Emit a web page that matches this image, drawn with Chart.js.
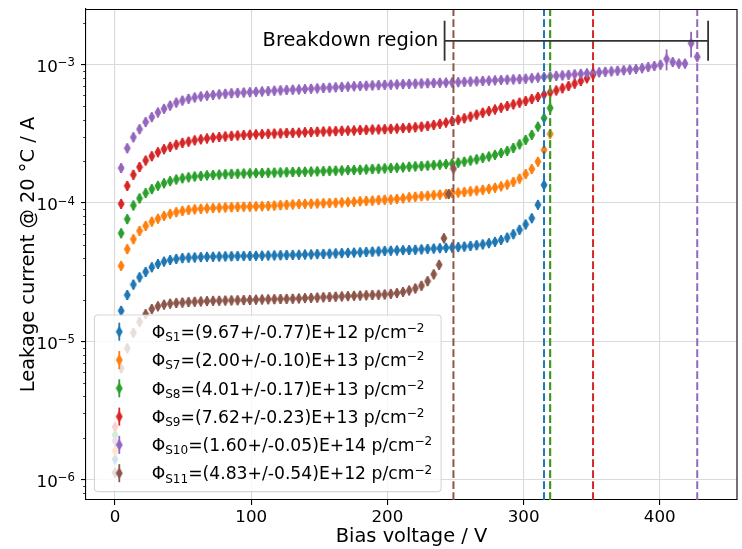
<!DOCTYPE html>
<html>
<head>
<meta charset="utf-8">
<script src="https://cdn.jsdelivr.net/npm/chart.js@4.4.0/dist/chart.umd.min.js"></script>
<style>
  html, body { margin: 0; padding: 0; background: #ffffff; }
  canvas { display: block; }
</style>
</head>
<body>
<canvas id="iv" width="742" height="549"></canvas>
<script>
// Bias voltage steps of the IV scans (V)
const biasV = [0,4.5,9,13.5,18,22.5,27,31.5,36,40.5,45,49.5,54,58.5,63,67.5,72,76.5,81,85.5,
  90,94.5,99,103.5,108,112.5,117,121.5,126,130.5,135,139.5,144,148.5,153,157.5,162,166.5,171,175.5,
  180,184.5,189,193.5,198,202.5,207,211.5,216,220.5,225,229.5,234,238.5,243,247.5,252,256.5,261,265.5,
  270,274.5,279,283.5,288,292.5,297,301.5,306,310.5,315,319.5,324,328.5,333,337.5,342,346.5,351,355.5,
  360,364.5,369,373.5,378,382.5,387,391.5,396,400.5,405,409.5,414,418.5,423,427.5];

// S11 was scanned with finer steps close to its breakdown
const biasV_S11 = [0,4.5,9,13.5,18,22.5,27,31.5,36,40.5,45,49.5,54,58.5,63,67.5,72,76.5,81,85.5,
  90,94.5,99,103.5,108,112.5,117,121.5,126,130.5,135,139.5,144,148.5,153,157.5,162,166.5,171,175.5,
  180,184.5,189,193.5,198,202.5,207,211.5,216,220.5,225,229.5,234,238,241.5,245,248.5];

// Leakage current at 20 °C (A)
const current_S1 = [1.4e-6,1.66e-5,2.16e-5,2.57e-5,2.90e-5,3.17e-5,3.43e-5,3.62e-5,3.77e-5,3.87e-5,
  3.94e-5,3.99e-5,4.02e-5,4.04e-5,4.06e-5,4.08e-5,4.09e-5,4.10e-5,4.11e-5,4.12e-5,
  4.13e-5,4.135e-5,4.14e-5,4.15e-5,4.16e-5,4.17e-5,4.18e-5,4.19e-5,4.20e-5,4.21e-5,
  4.22e-5,4.24e-5,4.25e-5,4.27e-5,4.28e-5,4.30e-5,4.32e-5,4.34e-5,4.36e-5,4.38e-5,
  4.40e-5,4.42e-5,4.45e-5,4.47e-5,4.50e-5,4.52e-5,4.54e-5,4.56e-5,4.57e-5,4.59e-5,
  4.62e-5,4.65e-5,4.68e-5,4.71e-5,4.74e-5,4.77e-5,4.80e-5,4.84e-5,4.89e-5,4.95e-5,
  5.02e-5,5.12e-5,5.24e-5,5.40e-5,5.62e-5,5.95e-5,6.40e-5,7.00e-5,7.76e-5,9.70e-5,1.35e-4];

const current_S7 = [1.6e-6,3.51e-5,4.64e-5,5.47e-5,6.28e-5,6.83e-5,7.33e-5,7.70e-5,8.06e-5,8.34e-5,
  8.58e-5,8.76e-5,8.90e-5,9.00e-5,9.08e-5,9.14e-5,9.19e-5,9.24e-5,9.29e-5,9.33e-5,
  9.37e-5,9.40e-5,9.42e-5,9.45e-5,9.48e-5,9.52e-5,9.58e-5,9.64e-5,9.70e-5,9.76e-5,
  9.82e-5,9.86e-5,9.90e-5,9.93e-5,9.96e-5,1.000e-4,1.005e-4,1.010e-4,1.015e-4,1.020e-4,
  1.030e-4,1.035e-4,1.040e-4,1.050e-4,1.055e-4,1.060e-4,1.070e-4,1.080e-4,1.100e-4,1.110e-4,
  1.120e-4,1.130e-4,1.140e-4,1.150e-4,1.160e-4,1.180e-4,1.190e-4,1.200e-4,1.215e-4,1.230e-4,
  1.245e-4,1.265e-4,1.290e-4,1.320e-4,1.360e-4,1.420e-4,1.500e-4,1.620e-4,1.760e-4,1.990e-4,
  2.420e-4,3.160e-4];

const current_S8 = [2.1e-6,6.04e-5,7.64e-5,9.60e-5,1.08e-4,1.18e-4,1.26e-4,1.33e-4,1.39e-4,1.44e-4,
  1.48e-4,1.51e-4,1.535e-4,1.555e-4,1.57e-4,1.585e-4,1.595e-4,1.605e-4,1.615e-4,1.625e-4,
  1.63e-4,1.635e-4,1.64e-4,1.645e-4,1.65e-4,1.655e-4,1.66e-4,1.665e-4,1.67e-4,1.675e-4,
  1.68e-4,1.685e-4,1.69e-4,1.695e-4,1.70e-4,1.71e-4,1.715e-4,1.72e-4,1.73e-4,1.735e-4,
  1.74e-4,1.75e-4,1.76e-4,1.77e-4,1.78e-4,1.79e-4,1.80e-4,1.81e-4,1.83e-4,1.84e-4,
  1.85e-4,1.865e-4,1.88e-4,1.895e-4,1.91e-4,1.93e-4,1.96e-4,1.99e-4,2.03e-4,2.07e-4,
  2.12e-4,2.17e-4,2.23e-4,2.30e-4,2.38e-4,2.50e-4,2.66e-4,2.86e-4,3.11e-4,3.57e-4,
  4.11e-4,4.86e-4];

const current_S9 = [2.4e-6,9.85e-5,1.33e-4,1.60e-4,1.82e-4,2.03e-4,2.18e-4,2.33e-4,2.45e-4,2.55e-4,
  2.64e-4,2.72e-4,2.78e-4,2.84e-4,2.89e-4,2.93e-4,2.97e-4,3.00e-4,3.03e-4,3.06e-4,
  3.08e-4,3.10e-4,3.12e-4,3.14e-4,3.15e-4,3.17e-4,3.18e-4,3.19e-4,3.21e-4,3.22e-4,
  3.23e-4,3.25e-4,3.26e-4,3.28e-4,3.29e-4,3.30e-4,3.31e-4,3.33e-4,3.34e-4,3.35e-4,
  3.37e-4,3.38e-4,3.40e-4,3.41e-4,3.42e-4,3.44e-4,3.46e-4,3.48e-4,3.50e-4,3.53e-4,
  3.57e-4,3.61e-4,3.67e-4,3.74e-4,3.82e-4,3.91e-4,4.00e-4,4.10e-4,4.22e-4,4.36e-4,
  4.50e-4,4.62e-4,4.75e-4,4.89e-4,5.03e-4,5.17e-4,5.32e-4,5.47e-4,5.65e-4,5.85e-4,
  6.08e-4,6.30e-4,6.52e-4,6.76e-4,7.02e-4,7.30e-4,7.62e-4,7.98e-4,8.47e-4];

const current_S10 = [1.9e-6,1.79e-4,2.49e-4,2.99e-4,3.42e-4,3.85e-4,4.18e-4,4.52e-4,4.80e-4,5.07e-4,
  5.33e-4,5.51e-4,5.67e-4,5.80e-4,5.90e-4,5.98e-4,6.05e-4,6.11e-4,6.17e-4,6.22e-4,
  6.26e-4,6.30e-4,6.33e-4,6.37e-4,6.41e-4,6.45e-4,6.49e-4,6.53e-4,6.57e-4,6.60e-4,
  6.63e-4,6.67e-4,6.71e-4,6.75e-4,6.79e-4,6.83e-4,6.87e-4,6.91e-4,6.95e-4,6.99e-4,
  7.02e-4,7.06e-4,7.09e-4,7.12e-4,7.15e-4,7.18e-4,7.21e-4,7.24e-4,7.27e-4,7.30e-4,
  7.33e-4,7.36e-4,7.38e-4,7.41e-4,7.43e-4,7.45e-4,7.48e-4,7.52e-4,7.56e-4,7.60e-4,
  7.64e-4,7.68e-4,7.72e-4,7.76e-4,7.80e-4,7.84e-4,7.87e-4,7.93e-4,8.00e-4,8.08e-4,
  8.16e-4,8.24e-4,8.31e-4,8.38e-4,8.45e-4,8.52e-4,8.59e-4,8.67e-4,8.75e-4,8.82e-4,
  8.89e-4,8.97e-4,9.05e-4,9.13e-4,9.22e-4,9.31e-4,9.45e-4,9.62e-4,9.80e-4,1.00e-3,
  1.10e-3,1.046e-3,1.02e-3,1.02e-3,1.43e-3,1.14e-3];

const current_S11 = [1.12e-6,6.37e-6,8.90e-6,1.15e-5,1.38e-5,1.57e-5,1.71e-5,1.79e-5,1.84e-5,1.87e-5,
  1.89e-5,1.905e-5,1.92e-5,1.93e-5,1.94e-5,1.95e-5,1.96e-5,1.965e-5,1.97e-5,1.975e-5,
  1.98e-5,1.985e-5,1.99e-5,2.00e-5,2.005e-5,2.01e-5,2.015e-5,2.02e-5,2.025e-5,2.03e-5,
  2.04e-5,2.05e-5,2.06e-5,2.07e-5,2.08e-5,2.09e-5,2.10e-5,2.11e-5,2.12e-5,2.13e-5,
  2.14e-5,2.15e-5,2.16e-5,2.17e-5,2.18e-5,2.20e-5,2.23e-5,2.27e-5,2.33e-5,2.41e-5,
  2.52e-5,2.72e-5,3.05e-5,3.57e-5,5.56e-5,1.16e-4,1.77e-4];

// Sample names and fluences
const sampleNames = ['S1', 'S7', 'S8', 'S9', 'S10', 'S11'];
const fluences = ['(9.67+/-0.77)E+12', '(2.00+/-0.10)E+13', '(4.01+/-0.17)E+13',
                  '(7.62+/-0.23)E+13', '(1.60+/-0.05)E+14', '(4.83+/-0.54)E+12'];

// Relative current uncertainty per sample, plus the larger ones near S10 breakdown (A)
const relUncertainty = [0.08, 0.08, 0.08, 0.08, 0.08, 0.08];
const errS10Voltages = [405, 423, 427.5];
const errS10Values = [1.9e-4, 3.0e-4, 0.85e-4];

// Breakdown voltage of each sample (V) and the overall breakdown range
const breakdownV = [315, 319.5, 319.5, 351, 427.5, 248.5];
const breakdownRange = [242, 435.5];
const breakdownLevel = 1.49e-3;

// Axis ticks
const xTicks = [0, 100, 200, 300, 400];
const yTicks = [1e-6, 1e-5, 1e-4, 1e-3];

const seriesV = [biasV, biasV, biasV, biasV, biasV, biasV_S11];
const seriesI = [current_S1, current_S7, current_S8, current_S9, current_S10, current_S11];
const colors = ['#1f77b4', '#ff7f0e', '#2ca02c', '#d62728', '#9467bd', '#8c564b'];
const FONT = '"DejaVu Sans", Verdana, sans-serif';
const TICK_FS = 16.7, LEGEND_FS = 17.2, LABEL_FS = 19.4;

function uncertainty(s, i) {
  const v = seriesV[s][i];
  if (s === 4) {
    const k = errS10Voltages.indexOf(v);
    if (k >= 0) return errS10Values[k];
  }
  return relUncertainty[s] * seriesI[s][i];
}

// thin diamond marker
function thinDiamond(color) {
  const c = document.createElement('canvas');
  c.width = 8; c.height = 12;
  const g = c.getContext('2d');
  g.fillStyle = color; g.strokeStyle = color; g.lineWidth = 1;
  g.beginPath();
  g.moveTo(4, 1.0); g.lineTo(7.0, 6); g.lineTo(4, 11.0); g.lineTo(1.0, 6);
  g.closePath(); g.fill(); g.stroke();
  return c;
}
const markers = colors.map(thinDiamond);

const datasets = seriesI.map((cur, s) => ({
  label: '\u03A6' + sampleNames[s] + '=' + fluences[s] + ' p/cm\u207B\u00B2',
  data: cur.map((y, i) => ({ x: seriesV[s][i], y })),
  showLine: false,
  pointStyle: markers[s],
  pointRadius: 4,
  backgroundColor: colors[s],
  borderColor: colors[s],
  order: 5 - s
}));

// text runs with sub- and superscripts: [text, '' | 'sub' | 'sup']
function richWidth(ctx, parts, fs) {
  let w = 0;
  for (const [t, kind] of parts) {
    ctx.font = (kind ? fs * 0.7 : fs) + 'px ' + FONT;
    w += ctx.measureText(t).width;
  }
  return w;
}
function richText(ctx, x, y, parts, fs) {
  for (const [t, kind] of parts) {
    ctx.font = (kind ? fs * 0.7 : fs) + 'px ' + FONT;
    const dy = kind === 'sub' ? 0.19 * fs : (kind === 'sup' ? -0.34 * fs : 0);
    ctx.fillText(t, x, y + dy);
    x += ctx.measureText(t).width;
  }
}

const overlay = {
  id: 'overlay',
  beforeDatasetsDraw(chart) {
    const { ctx, chartArea: a } = chart;
    const ys = chart.scales.y;
    ctx.save();
    ctx.beginPath(); ctx.rect(a.left, a.top, a.right - a.left, a.bottom - a.top); ctx.clip();
    ctx.lineWidth = 1.8;
    seriesI.forEach((cur, s) => {
      const meta = chart.getDatasetMeta(s);
      ctx.strokeStyle = colors[s];
      meta.data.forEach((pt, i) => {
        const v = cur[i], e = uncertainty(s, i);
        const y1 = ys.getPixelForValue(v + e);
        const y2 = ys.getPixelForValue(Math.max(v - e, 1e-12));
        ctx.beginPath(); ctx.moveTo(pt.x, y1); ctx.lineTo(pt.x, y2); ctx.stroke();
      });
    });
    ctx.restore();
  },
  afterDatasetsDraw(chart) {
    const { ctx, chartArea: a } = chart;
    const xs = chart.scales.x, ys = chart.scales.y;
    ctx.save();

    // breakdown voltage of every sample
    ctx.lineWidth = 2;
    ctx.setLineDash([7.7, 3.3]);
    breakdownV.forEach((v, s) => {
      const x = xs.getPixelForValue(v);
      ctx.strokeStyle = colors[s];
      ctx.beginPath(); ctx.moveTo(x, a.bottom); ctx.lineTo(x, a.top); ctx.stroke();
    });
    ctx.setLineDash([]);

    // minor ticks of the log axis
    ctx.strokeStyle = '#000'; ctx.lineWidth = 0.8;
    for (let n = -7; n <= -3; n++) {
      for (let k = 2; k <= 9; k++) {
        const v = k * Math.pow(10, n);
        if (v < ys.min || v > ys.max) continue;
        const y = Math.round(ys.getPixelForValue(v)) + 0.5;
        ctx.beginPath(); ctx.moveTo(a.left - 2.8, y); ctx.lineTo(a.left, y); ctx.stroke();
      }
    }
    // decade labels of the log axis, 10 with a raised exponent
    ctx.fillStyle = '#000';
    ctx.textBaseline = 'alphabetic';
    ctx.textAlign = 'left';
    yTicks.forEach(v => {
      const y = ys.getPixelForValue(v);
      const parts = [['10', ''], ['\u2212' + Math.round(-Math.log10(v)), 'sup']];
      const w = richWidth(ctx, parts, TICK_FS);
      richText(ctx, a.left - 11 - w, y + 7.4, parts, TICK_FS);
    });

    // top and right spines
    ctx.strokeStyle = '#000';
    ctx.lineWidth = 1.1;
    ctx.beginPath();
    ctx.moveTo(a.left, a.top + 0.5); ctx.lineTo(a.right, a.top + 0.5);
    ctx.lineTo(a.right, a.bottom);
    ctx.stroke();

    // breakdown region bar
    const x1 = xs.getPixelForValue(breakdownRange[0]);
    const x2 = xs.getPixelForValue(breakdownRange[1]);
    const yb = ys.getPixelForValue(breakdownLevel);
    ctx.strokeStyle = '#333333'; ctx.lineWidth = 1.8;
    ctx.beginPath();
    ctx.moveTo(x1, yb); ctx.lineTo(x2, yb);
    ctx.moveTo(x1, yb - 20); ctx.lineTo(x1, yb + 20);
    ctx.moveTo(x2, yb - 20); ctx.lineTo(x2, yb + 20);
    ctx.stroke();
    ctx.fillStyle = '#000';
    ctx.font = LABEL_FS + 'px ' + FONT;
    ctx.textAlign = 'right'; ctx.textBaseline = 'alphabetic';
    ctx.fillText('Breakdown region', x1 - 6.3, yb + 5.2);

    // legend
    const fs = LEGEND_FS, pad = 8.4, rowH = 28.3;
    const left = a.left + pad, bottom = a.bottom - pad;
    const top = bottom - (rowH * 6 + 6.8);
    const entries = sampleNames.map((n, s) => [['\u03A6', ''], [n, 'sub'], ['=' + fluences[s] + ' p/cm', ''], ['\u22122', 'sup']]);
    const textX = left + 57.3;
    let maxW = 0;
    entries.forEach(e => { maxW = Math.max(maxW, richWidth(ctx, e, fs)); });
    const right = textX + maxW + 9;
    ctx.beginPath();
    if (ctx.roundRect) ctx.roundRect(left, top, right - left, bottom - top, 3.5);
    else ctx.rect(left, top, right - left, bottom - top);
    ctx.fillStyle = 'rgba(255,255,255,0.8)';
    ctx.fill();
    ctx.strokeStyle = 'rgba(204,204,204,0.8)'; ctx.lineWidth = 1.1;
    ctx.stroke();
    ctx.textAlign = 'left';
    entries.forEach((e, s) => {
      const cy = top + 16.7 + rowH * s;
      const hx = left + 24.9;
      ctx.strokeStyle = colors[s]; ctx.lineWidth = 1.8;
      ctx.beginPath(); ctx.moveTo(hx, cy - 9); ctx.lineTo(hx, cy + 9); ctx.stroke();
      ctx.drawImage(markers[s], hx - 4, cy - 6);
      ctx.fillStyle = '#000';
      richText(ctx, textX, cy + 6.2, e, fs);
    });
    ctx.restore();
  }
};

new Chart(document.getElementById('iv'), {
  type: 'scatter',
  data: { datasets },
  options: {
    responsive: false,
    animation: false,
    devicePixelRatio: 1,
    events: [],
    layout: { padding: { top: 9, left: 0, right: -18, bottom: 0 } },
    plugins: { legend: { display: false }, tooltip: { enabled: false } },
    scales: {
      x: {
        type: 'linear', min: -21.3, max: 456.7,
        afterBuildTicks: sc => { sc.ticks = xTicks.map(v => ({ value: v })); },
        afterFit: sc => { sc.height = 49; },
        ticks: { font: { family: FONT, size: TICK_FS }, color: '#000', padding: 3, maxRotation: 0, autoSkip: false,
                 callback: v => String(v) },
        grid: { color: '#dadada', lineWidth: 1.1, tickColor: '#000', tickLength: 5, tickWidth: 1.1 },
        border: { color: '#000', width: 1.1 },
        title: { display: true, text: 'Bias voltage / V', color: '#000',
                 font: { family: FONT, size: LABEL_FS }, padding: { top: 0, bottom: 0 } }
      },
      y: {
        type: 'logarithmic', min: 7.1e-7, max: 2.53e-3,
        afterBuildTicks: sc => { sc.ticks = yTicks.map(v => ({ value: v })); },
        afterFit: sc => { sc.width = 86; },
        ticks: { display: false },
        grid: { color: '#dadada', lineWidth: 1.1, tickColor: '#000', tickLength: 5, tickWidth: 1.1 },
        border: { color: '#000', width: 1.1 },
        title: { display: true, text: 'Leakage current @ 20 \u00B0C / A', color: '#000',
                 font: { family: FONT, size: LABEL_FS }, padding: { top: 17, bottom: 0 } }
      }
    }
  },
  plugins: [overlay]
});
</script>
</body>
</html>
